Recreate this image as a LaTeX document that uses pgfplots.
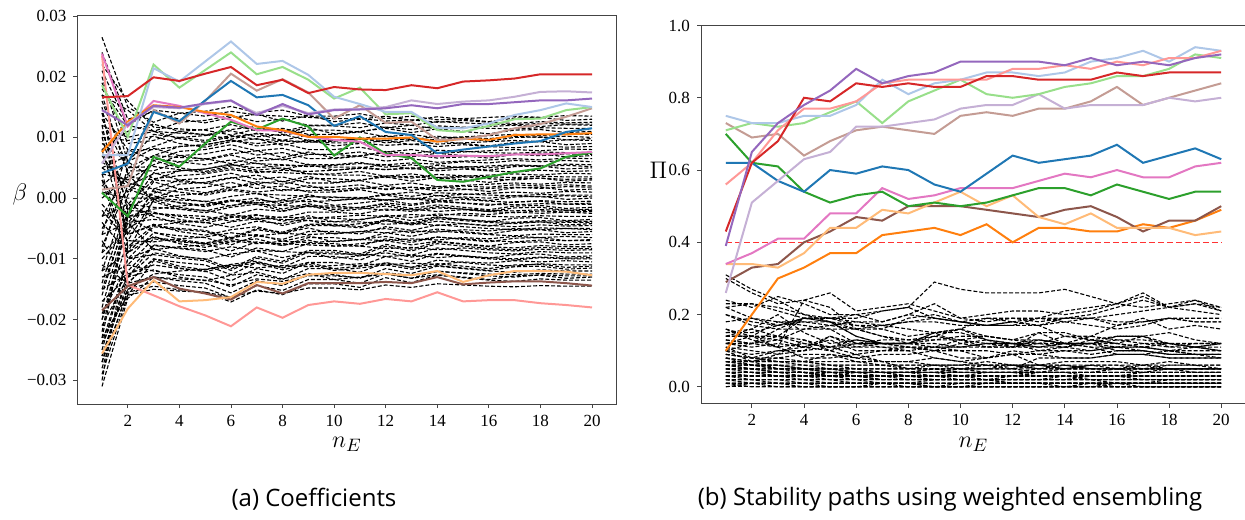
\documentclass[border=0pt]{standalone}
\usepackage{fontspec}
\setmainfont{Liberation Serif}
\newfontfamily\capfont{Open Sans}
\usepackage{pgfplots}
\usepackage{pgfplotstable}
\pgfplotsset{compat=1.18}

% tab10 / tab20 colours
\definecolor{tblue}{HTML}{1F77B4}
\definecolor{tlblue}{HTML}{AEC7E8}
\definecolor{torange}{HTML}{FF7F0E}
\definecolor{tlorange}{HTML}{FFBB78}
\definecolor{tgreen}{HTML}{2CA02C}
\definecolor{tlgreen}{HTML}{98DF8A}
\definecolor{tred}{HTML}{D62728}
\definecolor{tlred}{HTML}{FF9896}
\definecolor{tpurple}{HTML}{9467BD}
\definecolor{tlpurple}{HTML}{C5B0D5}
\definecolor{tbrown}{HTML}{8C564B}
\definecolor{tlbrown}{HTML}{C49C94}
\definecolor{tpink}{HTML}{E377C2}
\definecolor{spine}{HTML}{444444}

% ---------- (a) coefficients, in units of 1e-3; one row per variable, n_E = 1..20 ----------
\pgfplotstableread[header=false]{
26.5 15 12.5 14 14.3 15.1 14.1 14.5 13.5 13.5 13.9 13.1 13.5 12.9 13.1 13.3 13.5 13.3 13.6 13.5
24 13 14.2 13 12.4 13.3 13.8 12.7 13.6 12.6 13 13.5 12.8 13.4 13 12.6 13.2 13.3 12.8 13
21 12 14.5 14 13.5 14.3 13.7 13.5 13.3 13.1 13.1 12.7 12.9 12.5 12.8 12.5 12.3 12.6 12.4 12.5
17 14.5 11 12.5 12.8 13.6 12.6 13 12 12 12.4 11.6 12 11.4 11.6 11.8 12 11.8 12.1 12
12 10 11 10.7 10.5 9.7 10.7 10.3 11.2 11.2 10.9 11.7 11.3 11.9 11.7 11.5 11.4 11.6 11.5 11.5
8 11 12.2 11 10.4 11.3 11.8 10.7 11.6 10.6 11 11.5 10.8 11.4 11 10.6 11.2 11.3 10.8 11
19 9 9.5 11 11.3 12.1 11.1 11.5 10.5 10.5 10.9 10.1 10.5 9.9 10.1 10.3 10.5 10.3 10.6 10.5
14 8 8 8.5 8.8 9.5 9 9.4 9.2 9.4 9.7 9.5 9.8 9.6 10 9.8 10.2 10 10.2 10
5 7 8.5 10 10.3 11.1 10.1 10.5 9.5 9.5 9.9 9.1 9.5 8.9 9.1 9.3 9.5 9.3 9.6 9.5
10 9.5 10.2 9 8.4 9.3 9.8 8.7 9.6 8.6 9 9.5 8.8 9.4 9 8.6 9.2 9.3 8.8 9
2 6 10.5 10 9.5 10.3 9.7 9.5 9.3 9.1 9.1 8.7 8.9 8.5 8.8 8.5 8.3 8.6 8.4 8.5
16 5 7 8.5 8.8 9.6 8.6 9 8 8 8.4 7.6 8 7.4 7.6 7.8 8 7.8 8.1 8
-3 4 7 6.7 6.5 5.7 6.7 6.3 7.2 7.2 6.9 7.7 7.3 7.9 7.7 7.5 7.4 7.6 7.5 7.5
9 6 8.2 7 6.4 7.3 7.8 6.7 7.6 6.6 7 7.5 6.8 7.4 7 6.6 7.2 7.3 6.8 7
4 3 5.5 7 7.3 8.1 7.1 7.5 6.5 6.5 6.9 6.1 6.5 5.9 6.1 6.3 6.5 6.3 6.6 6.5
-8 2 4 4.5 4.8 5.5 5 5.4 5.2 5.4 5.7 5.5 5.8 5.6 6 5.8 6.2 6 6.2 6
13 4.5 4.5 6 6.3 7.1 6.1 6.5 5.5 5.5 5.9 5.1 5.5 4.9 5.1 5.3 5.5 5.3 5.6 5.5
7 1 6.2 5 4.4 5.3 5.8 4.7 5.6 4.6 5 5.5 4.8 5.4 5 4.6 5.2 5.3 4.8 5
-12 0.5 6.5 6 5.5 6.3 5.7 5.5 5.3 5.1 5.1 4.7 4.9 4.5 4.8 4.5 4.3 4.6 4.4 4.5
0 3.5 3 4.5 4.8 5.6 4.6 5 4 4 4.4 3.6 4 3.4 3.6 3.8 4 3.8 4.1 4
11 -1 3 2.7 2.5 1.7 2.7 2.3 3.2 3.2 2.9 3.7 3.3 3.9 3.7 3.5 3.4 3.6 3.5 3.5
-16 -2 4.2 3 2.4 3.3 3.8 2.7 3.6 2.6 3 3.5 2.8 3.4 3 2.6 3.2 3.3 2.8 3
6 2.5 1.5 3 3.3 4.1 3.1 3.5 2.5 2.5 2.9 2.1 2.5 1.9 2.1 2.3 2.5 2.3 2.6 2.5
-5 1.5 0 0.5 0.8 1.5 1 1.4 1.2 1.4 1.7 1.5 1.8 1.6 2 1.8 2.2 2 2.2 2
3 -3 2.7 1.5 0.9 1.8 2.3 1.2 2.1 1.1 1.5 2 1.3 1.9 1.5 1.1 1.7 1.8 1.3 1.5
-20 -4 0 1.5 1.8 2.6 1.6 2 1 1 1.4 0.6 1 0.4 0.6 0.8 1 0.8 1.1 1
1 0 0 -0.3 -0.5 -1.3 -0.3 -0.7 0.2 0.2 -0.1 0.7 0.3 0.9 0.7 0.5 0.4 0.6 0.5 0.5
-10 -5 1.2 0 -0.6 0.3 0.8 -0.3 0.6 -0.4 0 0.5 -0.2 0.4 0 -0.4 0.2 0.3 -0.2 0
8 -6 1.5 1 0.5 1.3 0.7 0.5 0.3 0.1 0.1 -0.3 -0.1 -0.5 -0.2 -0.5 -0.7 -0.4 -0.6 -0.5
-14 -1 -1.5 -1.8 -2 -2.8 -1.8 -2.2 -1.3 -1.3 -1.6 -0.8 -1.2 -0.6 -0.8 -1 -1.1 -0.9 -1 -1
-2 -7 -0.3 -1.5 -2.1 -1.2 -0.7 -1.8 -0.9 -1.9 -1.5 -1 -1.7 -1.1 -1.5 -1.9 -1.3 -1.2 -1.7 -1.5
-18 -3 -2.5 -2.8 -3 -3.8 -2.8 -3.2 -2.3 -2.3 -2.6 -1.8 -2.2 -1.6 -1.8 -2 -2.1 -1.9 -2 -2
15 -8 -4.5 -4 -3.7 -3 -3.5 -3.1 -3.3 -3.1 -2.8 -3 -2.7 -2.9 -2.5 -2.7 -2.3 -2.5 -2.3 -2.5
-6 -4 -3.5 -3.8 -4 -4.8 -3.8 -4.2 -3.3 -3.3 -3.6 -2.8 -3.2 -2.6 -2.8 -3 -3.1 -2.9 -3 -3
-22 -2 -2.3 -3.5 -4.1 -3.2 -2.7 -3.8 -2.9 -3.9 -3.5 -3 -3.7 -3.1 -3.5 -3.9 -3.3 -3.2 -3.7 -3.5
4 -9 -4.7 -5.2 -5.5 -6.7 -5.2 -5.8 -4.5 -4.5 -4.9 -3.7 -4.3 -3.4 -3.7 -4 -4.2 -3.9 -4 -4
-9 -5 -2.5 -3 -3.5 -2.7 -3.3 -3.5 -3.7 -3.9 -3.9 -4.3 -4.1 -4.5 -4.2 -4.5 -4.7 -4.4 -4.6 -4.5
-25 -10 -5.7 -6.2 -6.5 -7.7 -6.2 -6.8 -5.5 -5.5 -5.9 -4.7 -5.3 -4.4 -4.7 -5 -5.2 -4.9 -5 -5
-1 -6 -4.3 -5.5 -6.1 -5.2 -4.7 -5.8 -4.9 -5.9 -5.5 -5 -5.7 -5.1 -5.5 -5.9 -5.3 -5.2 -5.7 -5.5
-13 -11 -6.7 -7.2 -7.5 -8.7 -7.2 -7.8 -6.5 -6.5 -6.9 -5.7 -6.3 -5.4 -5.7 -6 -6.2 -5.9 -6 -6
10 -4 -8.5 -8 -7.7 -7 -7.5 -7.1 -7.3 -7.1 -6.8 -7 -6.7 -6.9 -6.5 -6.7 -6.3 -6.5 -6.3 -6.5
-27 -12 -7.7 -8.2 -8.5 -9.7 -8.2 -8.8 -7.5 -7.5 -7.9 -6.7 -7.3 -6.4 -6.7 -7 -7.2 -6.9 -7 -7
-4 -9 -6.3 -7.5 -8.1 -7.2 -6.7 -7.8 -6.9 -7.9 -7.5 -7 -7.7 -7.1 -7.5 -7.9 -7.3 -7.2 -7.7 -7.5
-17 -13 -9 -9.6 -10 -11.6 -9.6 -10.4 -8.6 -8.6 -9.2 -7.6 -8.4 -7.2 -7.6 -8 -8.2 -7.8 -8 -8
-30 -8 -6.5 -7 -7.5 -6.7 -7.3 -7.5 -7.7 -7.9 -7.9 -8.3 -8.1 -8.5 -8.2 -8.5 -8.7 -8.4 -8.6 -8.5
-7 -14 -10 -10.6 -11 -12.6 -10.6 -11.4 -9.6 -9.6 -10.2 -8.6 -9.4 -8.2 -8.6 -9 -9.2 -8.8 -9 -9
-24 -10 -8.3 -9.5 -10.1 -9.2 -8.7 -9.8 -8.9 -9.9 -9.5 -9 -9.7 -9.1 -9.5 -9.9 -9.3 -9.2 -9.7 -9.5
-15 -12.5 -11 -11.6 -12 -13.6 -11.6 -12.4 -10.6 -10.6 -11.2 -9.6 -10.4 -9.2 -9.6 -10 -10.2 -9.8 -10 -10
-28 -15 -12.5 -12 -11.7 -11 -11.5 -11.1 -11.3 -11.1 -10.8 -11 -10.7 -10.9 -10.5 -10.7 -10.3 -10.5 -10.3 -10.5
-19 -11 -12 -12.6 -13 -14.6 -12.6 -13.4 -11.6 -11.6 -12.2 -10.6 -11.4 -10.2 -10.6 -11 -11.2 -10.8 -11 -11
-23 -16 -10.3 -11.5 -12.1 -11.2 -10.7 -11.8 -10.9 -11.9 -11.5 -11 -11.7 -11.1 -11.5 -11.9 -11.3 -11.2 -11.7 -11.5
-26 -14 -13 -13.6 -14 -15.6 -13.6 -14.4 -12.6 -12.6 -13.2 -11.6 -12.4 -11.2 -11.6 -12 -12.2 -11.8 -12 -12
-31 -16.5 -13 -13.3 -13.5 -14.3 -13.3 -13.7 -12.8 -12.8 -13.1 -12.3 -12.7 -12.1 -12.3 -12.5 -12.6 -12.4 -12.5 -12.5
-21 -13 -11.8 -13 -13.6 -12.7 -12.2 -13.3 -12.4 -13.4 -13 -12.5 -13.2 -12.6 -13 -13.4 -12.8 -12.7 -13.2 -13
-27 -15.5 -14.5 -15.1 -15.5 -17.1 -15.1 -15.9 -14.1 -14.1 -14.7 -13.1 -13.9 -12.7 -13.1 -13.5 -13.7 -13.3 -13.5 -13.5
-29 -16 -15 -15.3 -15.5 -16.3 -15.3 -15.7 -14.8 -14.8 -15.1 -14.3 -14.7 -14.1 -14.3 -14.5 -14.6 -14.4 -14.5 -14.5
22 16 11.7 11.4 11.2 10.4 11.4 11 11.9 11.9 11.6 12.4 12 12.6 12.4 12.2 12.1 12.3 12.2 12.2
18 12 11 9.8 9.2 10.1 10.6 9.5 10.4 9.4 9.8 10.3 9.6 10.2 9.8 9.4 10 10.1 9.6 9.8
-6 8 6.2 7.7 8 8.8 7.8 8.2 7.2 7.2 7.6 6.8 7.2 6.6 6.8 7 7.2 7 7.3 7.2
20 6 3.2 3.7 4 4.7 4.2 4.6 4.4 4.6 4.9 4.7 5 4.8 5.2 5 5.4 5.2 5.4 5.2
-9 5 5.2 4.7 4.2 5 4.4 4.2 4 3.8 3.8 3.4 3.6 3.2 3.5 3.2 3 3.3 3.1 3.2
14 -2 0.8 2.3 2.6 3.4 2.4 2.8 1.8 1.8 2.2 1.4 1.8 1.2 1.4 1.6 1.8 1.6 1.9 1.8
-23 -3 -1.8 -1.3 -1 -0.3 -0.8 -0.4 -0.6 -0.4 -0.1 -0.3 0 -0.2 0.2 0 0.4 0.2 0.4 0.2
5 2 0.4 -0.8 -1.4 -0.5 0 -1.1 -0.2 -1.2 -0.8 -0.3 -1 -0.4 -0.8 -1.2 -0.6 -0.5 -1 -0.8
-12 -9 -0.2 -0.7 -1.2 -0.4 -1 -1.2 -1.4 -1.6 -1.6 -2 -1.8 -2.2 -1.9 -2.2 -2.4 -2.1 -2.3 -2.2
12 -6 -4.5 -5 -5.3 -6.5 -5 -5.6 -4.3 -4.3 -4.7 -3.5 -4.1 -3.2 -3.5 -3.8 -4 -3.7 -3.8 -3.8
-20 -7 -7.2 -6.7 -6.4 -5.7 -6.2 -5.8 -6 -5.8 -5.5 -5.7 -5.4 -5.6 -5.2 -5.4 -5 -5.2 -5 -5.2
-15 -3 -5.6 -6.8 -7.4 -6.5 -6 -7.1 -6.2 -7.2 -6.8 -6.3 -7 -6.4 -6.8 -7.2 -6.6 -6.5 -7 -6.8
3 -10 -9.3 -9.9 -10.3 -11.9 -9.9 -10.7 -8.9 -8.9 -9.5 -7.9 -8.7 -7.5 -7.9 -8.3 -8.5 -8.1 -8.3 -8.3
-26 -13 -7.8 -8.3 -8.8 -8 -8.6 -8.8 -9 -9.2 -9.2 -9.6 -9.4 -9.8 -9.5 -9.8 -10 -9.7 -9.9 -9.8
-11 -14 -10 -11.2 -11.8 -10.9 -10.4 -11.5 -10.6 -11.6 -11.2 -10.7 -11.4 -10.8 -11.2 -11.6 -11 -10.9 -11.4 -11.2
-24 -15 -13.8 -14.4 -14.8 -16.4 -14.4 -15.2 -13.4 -13.4 -14 -12.4 -13.2 -12 -12.4 -12.8 -13 -12.6 -12.8 -12.8
17 4 -0.6 -1.8 -2.4 -1.5 -1 -2.1 -1.2 -2.2 -1.8 -1.3 -2 -1.4 -1.8 -2.2 -1.6 -1.5 -2 -1.8
-3 -1 -3 -4.2 -4.8 -3.9 -3.4 -4.5 -3.6 -4.6 -4.2 -3.7 -4.4 -3.8 -4.2 -4.6 -4 -3.9 -4.4 -4.2
}\coefraw
\pgfplotstabletranspose{\coefblack}{\coefraw}

\pgfplotstableread{
name 1 2 3 4 5 6 7 8 9 10 11 12 13 14 15 16 17 18 19 20
red 16.6 16.8 19.9 19.3 20.5 21.6 18.6 19.5 17.3 18.3 17.9 17.8 18.6 18.1 19.2 19.4 19.7 20.4 20.4 20.4
lpurple 5.7 12.3 15.0 14.8 15.5 16.0 14.0 15.2 14.0 14.6 14.7 15.0 16.1 15.5 15.9 16.1 16.7 17.5 17.6 17.4
purple 14.5 12.0 15.2 14.9 15.6 16.1 13.7 15.5 13.8 14.5 14.6 14.8 15.3 14.8 15.5 15.5 15.8 16.1 16.1 16.4
lblue 7.1 7.1 21.4 19.2 22.5 25.8 22.1 22.6 20.3 16.7 15.5 14.2 14.2 11.6 11.5 12.3 13.7 14.5 15.6 15.0
lgreen 18.6 10.1 22.0 18.2 21.1 24.0 20.4 21.6 19.5 16.4 18.2 13.8 14.0 11.2 10.9 11.9 13.0 13.1 14.5 15.0
blue 4.1 5.7 14.2 12.7 16.1 19.3 16.6 17.0 15.3 11.9 13.5 10.9 10.4 7.4 8.0 8.5 9.0 9.4 10.9 11.5
lbrown 1.4 2.0 14.5 12.3 16.0 20.5 17.7 19.6 17.4 13.1 15.3 12.4 12.6 9.6 9.7 10.4 11.5 12.2 13.4 14.8
orange 7.6 12.6 15.3 15.0 14.2 13.7 11.8 11.2 10.1 10.1 9.8 9.8 10.0 9.3 9.8 9.6 10.4 10.5 10.5 10.7
pink 23.8 11.8 16.0 15.2 14.0 12.9 11.2 11.1 10.1 9.6 9.3 7.1 7.1 6.9 7.0 6.9 7.2 7.2 7.4 7.6
green 0.9 -3.0 6.8 5.2 9.0 12.6 11.3 13.1 11.8 7.0 10.0 7.3 6.6 3.0 2.7 3.5 4.3 4.9 6.8 7.5
lorange -25.6 -18.2 -13.5 -17.0 -16.8 -16.3 -13.8 -14.1 -12.6 -12.3 -12.3 -12.5 -12.7 -12.0 -13.8 -12.7 -12.0 -12.0 -12.1 -12.7
brown -18.5 -14.5 -13.0 -14.9 -15.7 -16.7 -14.3 -15.7 -14.0 -14.0 -14.0 -13.8 -14.0 -13.0 -14.2 -13.9 -13.7 -13.7 -14.0 -14.4
lred 23.5 -14.3 -16.0 -17.8 -19.3 -21.1 -18.0 -19.7 -17.6 -17.0 -17.4 -16.6 -17.0 -15.5 -17.0 -16.8 -16.8 -17.3 -17.6 -18.0
}\coefcolraw
\pgfplotstabletranspose[colnames from=name]{\coefcol}{\coefcolraw}

% ---------- (b) selection probabilities, in percent ----------
\pgfplotstableread[header=false]{
31 27 24 20 19 19 21 22 29 27 26 26 26 27 25 23 22 23 24 22
30 26 23 24 26 21 22 23 21 19 20 21 21 20 21 23 25 22 23 21
24 22 25 23 20 20 18 20 23 19 18 19 18 19 19 17 19 16 17 16
23 23 21 19 19 20 21 22 19 18 17 18 17 18 19 20 21 22 23 22
22 23 22 20 18 17 17 18 19 18 17 17 17 19 20 22 24 22 21 20
20 17 16 16 17 16 16 19 20 18 17 17 19 21 22 23 26 22 24 21
16 13 11 24 22 16 14 13 13 13 14 13 12 12 14 13 12 12 11 12
15 15 17 19 19 17 16 14 15 16 14 13 15 15 13 14 14 15 13 12
14 16 20 15 12 13 12 12 14 13 12 12 13 12 12 13 13 12 11 11
14 14 13 16 16 12 11 11 10 12 13 12 10 11 10 11 11 10 11 10
13 12 16 19 18 14 12 11 10 10 10 9 9 10 10 11 11 10 9 9
12 14 14 12 11 13 12 12 15 12 11 11 11 12 11 11 10 9 9 9
11 8 10 11 10 12 13 13 14 16 13 11 13 12 12 10 10 9 9 9
10 12 13 11 13 10 10 11 11 10 8 9 10 10 9 10 10 9 9 9
10 7 9 13 10 8 9 9 10 8 8 10 9 8 8 9 9 8 8 8
9 8 7 7 9 8 7 7 8 7 6 5 8 8 8 9 9 10 9 8
22 19 17 19 18 14 12 12 12 11 12 11 12 11 13 12 11 10 10 10
14 14 18 18 17 18 17 16 15 15 13 12 12 14 13 12 14 11 11 12
12 11 12 11 14 11 11 10 8 7 8 9 6 7 7 7 6 6 6 5
16 14 11 8 8 9 10 10 11 13 11 11 15 12 11 9 9 8 8 8
11 10 9 10 11 9 7 7 6 6 7 6 5 6 5 5 6 5 5 5
8 7 8 9 9 7 7 5 6 5 5 6 6 5 6 5 4 5 5 5
15 16 14 13 11 12 12 12 11 11 11 12 11 12 12 14 14 12 12 12
13 12 11 12 11 11 12 12 15 16 19 18 17 14 14 17 18 19 18 18
12 12 14 19 19 18 18 20 19 18 19 19 19 18 17 16 17 19 18 18
18 19 18 17 16 16 17 18 18 17 17 18 19 19 19 18 18 19 19 19
10 9 10 10 14 12 12 11 11 11 12 12 11 11 12 12 11 12 11 10
20 18 17 18 18 16 14 12 13 14 14 13 13 12 12 11 12 11 12 12
8 6 6 5 5 4 4 4 4 4 4 4 4 4 4 4 4 4 4 4
7 6 6 5 5 4 4 3 3 3 3 3 3 3 3 3 3 3 3 3
7 7 5 5 4 4 4 4 4 5 5 5 4 4 4 5 5 5 5 5
6 5 5 5 5 5 5 5 5 5 5 5 5 5 5 5 5 5 5 5
6 6 5 5 4 3 3 3 3 3 2 2 2 2 3 3 3 3 3 3
5 5 4 4 3 3 3 3 3 3 3 3 3 3 3 3 3 3 3 3
5 5 5 4 4 4 3 3 3 2 2 2 2 2 2 2 2 2 2 2
4 4 4 4 3 3 3 3 3 3 4 4 3 3 3 3 3 3 3 3
4 4 3 3 3 2 2 2 2 2 2 2 2 2 2 2 2 2 2 2
3 3 3 3 3 3 2 2 2 2 2 2 2 2 2 2 2 2 2 2
3 3 3 2 2 2 2 2 2 2 2 1 1 1 1 1 1 1 1 1
2 2 2 2 2 2 2 2 2 2 2 2 2 2 2 2 2 2 2 2
2 2 2 2 1 1 1 1 1 1 1 1 1 1 1 1 1 1 1 1
1 1 1 1 1 1 1 1 1 1 1 1 1 1 1 1 1 1 1 1
1 1 1 1 1 1 1 1 0 0 0 0 0 0 0 0 0 0 0 0
0 0 0 0 0 0 0 0 0 0 0 0 0 0 0 0 0 0 0 0
1 1 0 0 0 0 0 0 0 0 0 0 0 0 0 0 0 0 0 0
3 2 2 1 1 1 1 0 0 1 1 1 1 0 0 1 1 1 1 1
6 5 4 4 3 4 4 4 5 5 4 4 4 5 6 6 5 5 4 4
5 4 4 4 3 3 2 2 2 2 2 3 3 3 2 2 2 2 2 2
4 3 3 3 4 4 4 4 3 3 3 3 3 3 3 3 4 4 4 4
7 6 6 6 5 5 4 4 5 4 4 4 4 4 4 4 4 4 4 4
9 8 7 7 6 6 6 5 5 5 5 5 6 6 6 6 6 7 6 6
2 1 1 1 0 0 0 0 0 0 0 0 0 0 0 0 0 0 0 0
1 0 0 0 0 0 0 0 0 0 1 1 1 1 1 0 0 0 0 0
2 2 1 1 1 1 1 1 2 2 2 1 1 1 1 1 1 1 1 1
4 4 4 3 3 3 3 2 2 2 2 2 2 3 3 3 2 2 2 2
5 5 5 5 4 4 4 4 4 4 4 4 4 4 3 3 3 3 3 3
6 6 5 5 5 5 5 5 5 4 4 4 5 5 5 5 5 5 5 5
7 7 7 6 6 6 6 6 6 6 6 6 6 5 5 5 5 5 5 5
8 7 7 7 6 5 5 5 5 5 6 6 6 6 5 5 5 6 6 6
6 6 6 5 5 4 4 3 3 3 3 3 4 4 4 4 4 4 4 4
3 3 3 3 2 2 1 1 1 1 1 1 1 1 1 1 1 2 2 2
4 4 3 3 3 3 3 3 2 2 2 2 2 2 2 1 1 1 1 1
9 8 8 7 7 7 6 6 6 6 6 6 5 5 5 5 5 5 5 5
2 2 2 2 2 1 1 1 1 1 1 1 1 1 1 1 1 1 1 1
5 5 4 4 4 4 4 4 4 3 3 3 3 3 3 3 3 3 3 3
0 1 1 0 0 0 1 1 0 0 0 0 0 0 1 1 0 0 0 0
}\stabraw
\pgfplotstabletranspose{\stabblack}{\stabraw}

\pgfplotstableread{
name 1 2 3 4 5 6 7 8 9 10 11 12 13 14 15 16 17 18 19 20
lblue 75 73 73 75 75 78 85 81 84 85 87 87 86 87 90 91 93 90 94 93
lgreen 71 73 72 73 76 79 73 79 82 85 81 80 81 83 84 86 86 88 92 91
red 43 62 68 80 79 84 83 84 83 83 86 86 85 85 85 87 86 87 87 87
lred 56 62 71 77 77 79 84 85 85 85 85 88 88 89 88 90 89 91 91 93
purple 39 65 73 78 82 88 84 86 87 90 90 90 90 89 91 89 90 89 91 92
lpurple 26 51 57 63 65 72 72 73 74 77 78 78 81 77 78 78 78 80 79 80
lbrown 73 69 70 64 68 71 72 71 70 75 76 75 77 77 79 83 78 80 82 84
blue 62 62 57 54 60 59 61 60 56 54 59 64 62 63 64 67 62 64 66 63
green 70 62 61 54 51 53 54 50 51 50 51 53 55 55 53 56 54 52 54 54
pink 34 37 41 41 48 48 55 52 53 55 55 55 57 59 58 60 58 58 61 62
lorange 34 34 33 37 44 44 49 48 51 54 50 53 47 45 48 44 44 44 42 43
brown 29 33 34 40 43 47 46 50 50 50 49 48 47 49 50 47 43 46 46 50
orange 10 20 30 33 37 37 42 43 44 42 45 40 44 44 43 43 45 44 46 49
}\stabcolraw
\pgfplotstabletranspose[colnames from=name]{\stabcol}{\stabcolraw}

\pgfplotsset{
  panel/.style={
    scale only axis,
    xmin=0.05, xmax=20.95,
    xtick={2,4,...,20},
    tick align=outside, major tick length=2pt,
    xtick pos=bottom, ytick pos=left,
    axis line style={spine, line width=0.5pt},
    tick style={spine, line width=0.4pt},
    ticklabel style={font=\fontsize{8.5}{10}\selectfont},
    /pgf/number format/assume math mode=true,
    label style={font=\fontsize{13}{15}\selectfont},
  },
  bdash/.style={black, line width=0.55pt, dash pattern=on 2pt off 1pt, no markers},
  sel/.style={#1, line width=1pt, no markers},
}

\begin{document}
\begin{tikzpicture}
\useasboundingbox (0,0) rectangle (622.5pt,259.5pt);

\begin{axis}[panel,
  at={(38.75pt,57.5pt)}, anchor=south west,
  width=269.5pt, height=194pt,
  ymin=-33.9, ymax=30,
  ytick={-30,-20,-10,0,10,20,30},
  yticklabels={−0.03,−0.02,−0.01,0.00,0.01,0.02,0.03},
  xlabel={$n_E$},
  xlabel style={at={(axis description cs:0.5,-0.103)}, anchor=center},
  ylabel={$\beta$},
  ylabel style={at={(axis description cs:-0.107,0.539)}, anchor=center, rotate=-90},
]
\pgfplotsinvokeforeach{1,...,74}{
  \addplot[bdash] table[x expr=\coordindex+1, y index=#1] {\coefblack};
}
\addplot[sel=tlred]    table[x=colnames, y=lred]    {\coefcol};
\addplot[sel=tbrown]   table[x=colnames, y=brown]   {\coefcol};
\addplot[sel=tlorange] table[x=colnames, y=lorange] {\coefcol};
\addplot[sel=tgreen]   table[x=colnames, y=green]   {\coefcol};
\addplot[sel=tpink]    table[x=colnames, y=pink]    {\coefcol};
\addplot[sel=torange]  table[x=colnames, y=orange]  {\coefcol};
\addplot[sel=tlbrown]  table[x=colnames, y=lbrown]  {\coefcol};
\addplot[sel=tblue]    table[x=colnames, y=blue]    {\coefcol};
\addplot[sel=tlgreen]  table[x=colnames, y=lgreen]  {\coefcol};
\addplot[sel=tlblue]   table[x=colnames, y=lblue]   {\coefcol};
\addplot[sel=tlpurple] table[x=colnames, y=lpurple] {\coefcol};
\addplot[sel=tpurple]  table[x=colnames, y=purple]  {\coefcol};
\addplot[sel=tred]     table[x=colnames, y=red]     {\coefcol};
\end{axis}

\begin{axis}[panel,
  at={(350.5pt,57.75pt)}, anchor=south west,
  width=272.5pt, height=189pt,
  ymin=-4.6, ymax=100,
  ytick={0,20,40,60,80,100},
  yticklabels={0.0,0.2,0.4,0.6,0.8,1.0},
  xlabel={$n_E$},
  xlabel style={at={(axis description cs:0.5,-0.107)}, anchor=center},
  ylabel={$\Pi$},
  ylabel style={at={(axis description cs:-0.078,0.618)}, anchor=center, rotate=-90},
]
\pgfplotsinvokeforeach{1,...,66}{
  \addplot[bdash] table[x expr=\coordindex+1, y index=#1] {\stabblack};
}
\addplot[red!80!white, line width=0.8pt, dash pattern=on 3pt off 1.5pt, no markers]
  coordinates {(1,40) (20,40)};
\addplot[sel=torange]  table[x=colnames, y=orange]  {\stabcol};
\addplot[sel=tbrown]   table[x=colnames, y=brown]   {\stabcol};
\addplot[sel=tlorange] table[x=colnames, y=lorange] {\stabcol};
\addplot[sel=tpink]    table[x=colnames, y=pink]    {\stabcol};
\addplot[sel=tgreen]   table[x=colnames, y=green]   {\stabcol};
\addplot[sel=tblue]    table[x=colnames, y=blue]    {\stabcol};
\addplot[sel=tlbrown]  table[x=colnames, y=lbrown]  {\stabcol};
\addplot[sel=tlpurple] table[x=colnames, y=lpurple] {\stabcol};
\addplot[sel=tlgreen]  table[x=colnames, y=lgreen]  {\stabcol};
\addplot[sel=tlblue]   table[x=colnames, y=lblue]   {\stabcol};
\addplot[sel=tlred]    table[x=colnames, y=lred]    {\stabcol};
\addplot[sel=tred]     table[x=colnames, y=red]     {\stabcol};
\addplot[sel=tpurple]  table[x=colnames, y=purple]  {\stabcol};
\end{axis}

\node[font=\capfont\fontsize{12}{14}\selectfont] at (157pt,10pt) {(a) Coefficients};
\node[font=\capfont\fontsize{12}{14}\selectfont] at (475pt,10pt) {(b) Stability paths using weighted ensembling};
\end{tikzpicture}
\end{document}
